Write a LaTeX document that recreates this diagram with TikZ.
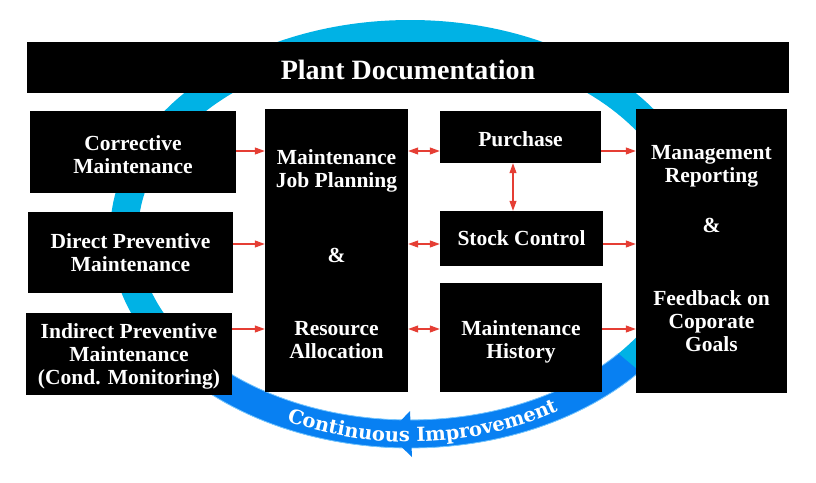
\documentclass[tikz,border=0pt]{standalone}
\usepackage{fontspec}
\setmainfont{Liberation Serif}
\newfontfamily\ringfont{DejaVu Serif}
\usepackage{xcolor}
\usetikzlibrary{positioning,arrows.meta,decorations.text}

\definecolor{ringcyan}{RGB}{0,178,229}
\definecolor{ringblue}{RGB}{8,128,242}
\definecolor{ringedge}{RGB}{120,198,255}
\definecolor{linkred}{RGB}{229,62,52}

\tikzset{
    box/.style={fill=black, text=white, font=\bfseries\fontsize{21.5}{23}\selectfont,
        align=center, inner sep=0pt},
    link/.style={linkred, line width=1.1pt, -{Triangle[length=10pt,width=7pt]}},
    dlink/.style={linkred, line width=1.1pt,
        {Triangle[length=10pt,width=7pt]}-{Triangle[length=10pt,width=7pt]}}
}

\begin{document}
\begin{tikzpicture}[x=1pt,y=-1pt]
    \useasboundingbox (0,0) rectangle (816,482);

    % Improvement ring
    \fill[ringcyan, even odd rule] (410,234) ellipse [x radius=300, y radius=214]
        (410,234) ellipse [x radius=272, y radius=186];
    \fill[ringblue] plot[domain=40:146, samples=60] ({410+300*cos(\x)},{234+214*sin(\x)})
        -- plot[domain=146:40, samples=60] ({410+272*cos(\x)},{234+186*sin(\x)}) -- cycle;
    \draw[ringedge, line width=0.8pt] plot[domain=40:146, samples=60] ({410+300*cos(\x)},{234+214*sin(\x)});
    \draw[ringedge, line width=0.8pt] plot[domain=40:146, samples=60] ({410+272*cos(\x)},{234+186*sin(\x)});
    \fill[ringblue] (410,411) -- (412,457) -- (388,434) -- cycle;
    \path[decorate, decoration={text along path, text align=center, text color=white,
        text={|\ringfont\bfseries\fontsize{19.5}{19.5}\selectfont|Continuous Improvement}}]
        plot[domain=120:54, samples=60] ({410+281*cos(\x)},{234+208*sin(\x)});

    % Boxes
    \node[box, minimum width=762, minimum height=51, font=\bfseries\fontsize{28}{28}\selectfont]
        (doc) at (408,67.5) {\rule{0pt}{24pt}Plant Documentation};
    \node[box, minimum width=206, minimum height=82] (corr) at (133,152)
        {\rule{0pt}{21pt}Corrective\\Maintenance};
    \node[box, minimum width=205, minimum height=81] (dprev) at (130.5,252.5) {Direct Preventive\\Maintenance};
    \node[box, minimum width=206, minimum height=82] (iprev) at (129,354)
        {\rule{0pt}{19pt}Indirect Preventive\\Maintenance\\(Cond. Monitoring)};
    \node[box, minimum width=143, minimum height=283] (plan) at (336.5,250.5)
        {\rule{0pt}{23pt}Maintenance\\Job Planning\\[52pt]\&\\[50pt]Resource\\Allocation};
    \node[box, minimum width=161, minimum height=52] (purch) at (520.5,137) {\rule{0pt}{19pt}Purchase};
    \node[box, minimum width=163, minimum height=55] (stock) at (521.5,238.5) {Stock Control};
    \node[box, minimum width=162, minimum height=109] (hist) at (521,337.5)
        {\rule{0pt}{24pt}Maintenance\\History};
    \node[box, minimum width=151, minimum height=284] (mgmt) at (711.5,251)
        {Management\\Reporting\\[27pt]\&\\[50pt]Feedback on\\Coporate\\Goals\rule[-6pt]{0pt}{6pt}};

    % Links
    \coordinate (r1) at (0,151);
    \coordinate (r2) at (0,244);
    \coordinate (r3) at (0,329);
    \coordinate (c1) at (513,0);
    \draw[link] (corr.east |- r1) -- (plan.west |- r1);
    \draw[link] (dprev.east |- r2) -- (plan.west |- r2);
    \draw[link] (iprev.east |- r3) -- (plan.west |- r3);
    \draw[dlink] (plan.east |- r1) -- (purch.west |- r1);
    \draw[dlink] (plan.east |- r2) -- (stock.west |- r2);
    \draw[dlink] (plan.east |- r3) -- (hist.west |- r3);
    \draw[dlink] (purch.south -| c1) -- (stock.north -| c1);
    \draw[link] (purch.east |- r1) -- (mgmt.west |- r1);
    \draw[link] (stock.east |- r2) -- (mgmt.west |- r2);
    \draw[link] (hist.east |- r3) -- (mgmt.west |- r3);
\end{tikzpicture}
\end{document}
